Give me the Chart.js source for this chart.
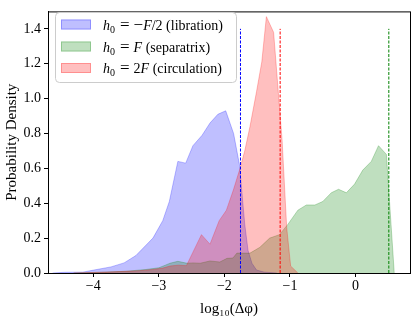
<!DOCTYPE html>
<html>
<head>
<meta charset="utf-8">
<script src="https://cdn.jsdelivr.net/npm/chart.js@4"></script>
<style>
  body { margin: 0; background: #fff; }
</style>
</head>
<body>
<canvas id="chart" width="416" height="320"></canvas>
<script>
// values
const librationX = [-4.62, -4.44, -4.16, -3.99, -3.73, -3.53, -3.35, -3.09, -2.94, -2.84, -2.71, -2.59, -2.48, -2.34, -2.22, -2.10, -1.98, -1.86, -1.77, -1.69, -1.64, -1.58, -1.51, -1.39, -1.20]
const librationY = [0, 0.004, 0.005, 0.017, 0.035, 0.058, 0.10, 0.20, 0.30, 0.41, 0.64, 0.63, 0.73, 0.79, 0.86, 0.91, 0.93, 0.80, 0.62, 0.28, 0.13, 0.056, 0.017, 0.005, 0]

const separatrixX = [-4.3, -3.9, -3.5, -3.2, -3.0, -2.9, -2.83, -2.71, -2.57, -2.48, -2.37, -2.22, -2.07, -1.96, -1.87, -1.81, -1.61, -1.46, -1.31, -1.16, -1.03, -0.88, -0.75, -0.62, -0.50, -0.37, -0.26, -0.14, -0.015, 0.11, 0.24, 0.35, 0.47, 0.59]
const separatrixY = [0, 0.004, 0.01, 0.02, 0.03, 0.045, 0.056, 0.067, 0.056, 0.058, 0.056, 0.069, 0.063, 0.084, 0.086, 0.114, 0.114, 0.147, 0.20, 0.22, 0.28, 0.36, 0.39, 0.39, 0.41, 0.46, 0.48, 0.46, 0.51, 0.59, 0.64, 0.73, 0.68, 0]

const circulationX = [-4.3, -4.0, -3.6, -3.3, -3.09, -2.94, -2.83, -2.7, -2.58, -2.35, -2.22, -2.08, -1.97, -1.86, -1.77, -1.69, -1.61, -1.51, -1.43, -1.36, -1.25, -1.12, -1.05, -0.99, -0.88]
const circulationY = [0, 0.003, 0.008, 0.013, 0.02, 0.028, 0.04, 0.045, 0.042, 0.22, 0.165, 0.30, 0.36, 0.48, 0.59, 0.70, 0.84, 1.04, 1.21, 1.47, 1.38, 0.76, 0.26, 0.04, 0]

// dashed marker lines (libration, circulation, separatrix)
const markerX = [-1.755, -1.15, 0.507]
const markerTop = 1.4

const xTicks = [-4, -3, -2, -1, 0]
const yTicks = [0, 0.2, 0.4, 0.6, 0.8, 1.0, 1.2, 1.4]

// legend labels, split in pieces: i = italic, s = subscript, o = math operator, r = roman
const legendRows = [
    [['h', 'i'], ['0', 's'], ['=', 'o'], ['\u2212', 'o0'], ['F', 'i'], ['/2', 'r'], [' (libration)', 'r']],
    [['h', 'i'], ['0', 's'], ['=', 'o'], ['F', 'i'], [' (separatrix)', 'r']],
    [['h', 'i'], ['0', 's'], ['=', 'o'], ['2', 'r'], ['F', 'i'], [' (circulation)', 'r']]
]

const blueFill = 'rgba(0,0,255,0.25)',
      greenFill = 'rgba(0,128,0,0.25)',
      redFill = 'rgba(255,0,0,0.25)'
const fillColors = [blueFill, greenFill, redFill]
const markerColors = ['#0000ff', '#ff0000', '#008000']

const serif = '"Liberation Serif", "DejaVu Serif", serif'
const pts = (xs, ys) => xs.map((x, i) => ({x: x, y: ys[i]}))
const minus = v => String(v).replace('-', '\u2212')

const area = (label, xs, ys, color, order) => ({
    label: label,
    data: pts(xs, ys),
    backgroundColor: color,
    borderColor: color,
    borderWidth: 1,
    pointRadius: 0,
    tension: 0,
    fill: 'origin',
    order: order
})

const markers = markerX.map((x, i) => ({
    label: 'marker' + i,
    data: [{x: x, y: 0}, {x: x, y: markerTop}],
    borderColor: markerColors[i],
    borderWidth: 1,
    borderDash: [3, 1.5],
    pointRadius: 0,
    fill: false,
    order: 0
}))

const frame = {
    id: 'frame',
    afterDatasetsDraw (chart) {
        const {ctx, chartArea: a} = chart
        ctx.save()
        ctx.strokeStyle = '#000'
        ctx.lineWidth = 1
        ctx.strokeRect(a.left + 0.5, a.top + 0.5, a.right - a.left, a.bottom - a.top)

        // legend box
        const bx = 55.5, by = 12.5, bw = 181, bh = 70, r = 4
        ctx.beginPath()
        ctx.moveTo(bx + r, by)
        ctx.arcTo(bx + bw, by, bx + bw, by + bh, r)
        ctx.arcTo(bx + bw, by + bh, bx, by + bh, r)
        ctx.arcTo(bx, by + bh, bx, by, r)
        ctx.arcTo(bx, by, bx + bw, by, r)
        ctx.closePath()
        ctx.fillStyle = 'rgba(255,255,255,0.8)'
        ctx.fill()
        ctx.strokeStyle = '#cccccc'
        ctx.stroke()

        const rowsY = [24.5, 46.5, 68]
        legendRows.forEach((row, i) => {
            const cy = rowsY[i]
            ctx.fillStyle = fillColors[i]
            ctx.strokeStyle = fillColors[i]
            ctx.fillRect(61, cy - 5, 30, 10)
            ctx.strokeRect(61.5, cy - 4.5, 29, 9)
            let x = 103
            ctx.fillStyle = '#000'
            ctx.textBaseline = 'alphabetic'
            row.forEach(([t, s]) => {
                let dy = 0
                if (s === 'i') ctx.font = 'italic 14px ' + serif
                else if (s === 's') { ctx.font = '10px ' + serif; dy = 3 }
                else if (s[0] === 'o') ctx.font = '17px ' + serif
                else ctx.font = '14px ' + serif
                if (s === 'o') x += 5
                ctx.fillText(t, x, cy + 5 + dy)
                x += ctx.measureText(t).width
                if (s === 'o') x += 4
            })
        })
        ctx.restore()
    }
}

new Chart(document.getElementById('chart'), {
    type: 'line',
    data: {
        datasets: [
            ...markers,
            area('h0 = 2F (circulation)', circulationX, circulationY, redFill, 1),
            area('h0 = F (separatrix)', separatrixX, separatrixY, greenFill, 2),
            area('h0 = -F/2 (libration)', librationX, librationY, blueFill, 3)
        ]
    },
    options: {
        responsive: false,
        animation: false,
        devicePixelRatio: 1,
        layout: {padding: {left: 0, right: 6, top: 6, bottom: 0}},
        plugins: {legend: {display: false}, tooltip: {enabled: false}},
        scales: {
            x: {
                type: 'linear',
                min: -4.69,
                max: 0.83,
                afterBuildTicks: s => { s.ticks = xTicks.map(v => ({value: v})) },
                afterFit: s => { s.height = 47 },
                ticks: {
                    color: '#000',
                    font: {family: serif, size: 14},
                    padding: 1,
                    maxRotation: 0,
                    callback: v => minus(v)
                },
                grid: {drawOnChartArea: false, drawTicks: true, tickLength: 4, color: '#000'},
                border: {display: true, color: '#000'},
                title: {
                    display: true,
                    text: 'log\u2081\u2080(\u0394\u03c6)',
                    color: '#000',
                    font: {family: serif, size: 15},
                    padding: {top: 0, bottom: 2}
                }
            },
            y: {
                min: 0,
                max: 1.5,
                afterBuildTicks: s => { s.ticks = yTicks.map(v => ({value: v})) },
                afterFit: s => { s.width = 48 },
                ticks: {
                    color: '#000',
                    font: {family: serif, size: 14},
                    padding: 3,
                    callback: v => v.toFixed(1)
                },
                grid: {drawOnChartArea: false, drawTicks: true, tickLength: 4, color: '#000'},
                border: {display: true, color: '#000'},
                title: {
                    display: true,
                    text: 'Probability Density',
                    color: '#000',
                    font: {family: serif, size: 15},
                    padding: {top: 3, bottom: 0}
                }
            }
        }
    },
    plugins: [frame]
})
</script>
</body>
</html>
